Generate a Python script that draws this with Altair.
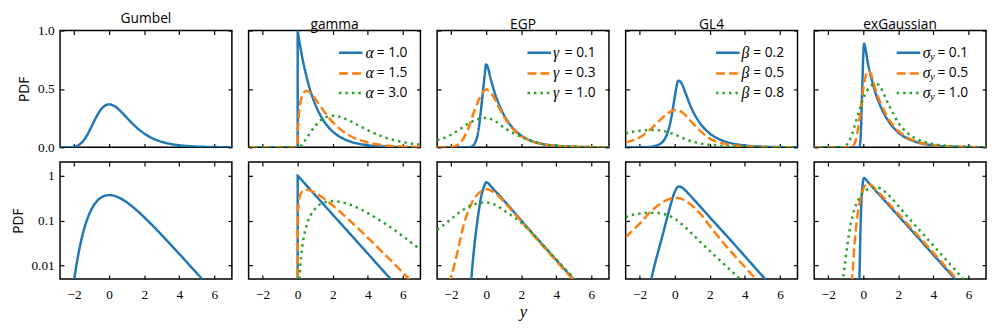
import altair as alt
import pandas as pd

# ---------------- data ----------------
X_DOMAIN = [-2.8, 7.0]
X_TICKS = [-2, 0, 2, 4, 6]
LIN_DOMAIN = [0.0, 1.0]
LIN_TICKS = [0.0, 0.5, 1.0]
LOG_DOMAIN = [0.005, 2.0]
LOG_TICKS = [0.01, 0.1, 1.0]

panel_titles = ["Gumbel", "gamma", "EGP", "GL4", "exGaussian"]
param_symbols = ["", "α", "γ", "β", "σ"]
param_subscripts = ["", "", "", "", "y"]
param_values = [[], ["1.0", "1.5", "3.0"], ["0.1", "0.3", "1.0"],
                ["0.2", "0.5", "0.8"], ["0.1", "0.5", "1.0"]]

# Gumbel
gumbel_x = [-2.8, -2.5, -2.25, -2.1, -2.0, -1.9, -1.75, -1.5, -1.25, -1.0, -0.75, -0.5, -0.25,
            0.0, 0.25, 0.5, 0.75, 1.0, 1.5, 2.0, 2.5, 3.0, 3.5, 4.0, 5.0, 6.0, 7.0]
gumbel_pdf = [1.2e-6, 6.2e-5, 7.2e-4, 0.0023, 0.0046, 0.0084, 0.0182, 0.0507, 0.1065, 0.1794,
              0.2549, 0.3170, 0.3555, 0.3679, 0.3574, 0.3307, 0.2945, 0.2546, 0.1785, 0.1182,
              0.0756, 0.0474, 0.0293, 0.0180, 0.0067, 0.0025, 0.0009]

# gamma
gamma_a1_x = [-2.8, -0.0001, 0.0, 0.02, 0.05, 0.1, 0.2, 0.3, 0.5, 0.75, 1.0, 1.5, 2.0, 2.5, 3.0,
              4.0, 5.0, 6.0, 7.0]
gamma_a1_pdf = [1e-9, 1e-9, 1.0, 0.980, 0.951, 0.905, 0.819, 0.741, 0.607, 0.472, 0.368, 0.223,
                0.135, 0.0821, 0.0498, 0.0183, 0.0067, 0.0025, 0.0009]
gamma_a15_x = [-2.8, 0.0, 0.00001, 0.0001, 0.001, 0.01, 0.05, 0.1, 0.2, 0.3, 0.5, 0.75, 1.0, 1.5,
               2.0, 2.5, 3.0, 4.0, 5.0, 6.0, 7.0]
gamma_a15_pdf = [1e-9, 1e-9, 0.0036, 0.0113, 0.0357, 0.1117, 0.240, 0.323, 0.413, 0.458, 0.484,
                 0.462, 0.415, 0.308, 0.216, 0.1465, 0.0973, 0.0413, 0.0170, 0.0069, 0.0027]
gamma_a3_x = [-2.8, 0.0, 0.02, 0.05, 0.1, 0.2, 0.3, 0.5, 0.75, 1.0, 1.5, 2.0, 2.5, 3.0, 3.5, 4.0,
              5.0, 6.0, 7.0]
gamma_a3_pdf = [1e-9, 1e-9, 0.000196, 0.00119, 0.00452, 0.0164, 0.0333, 0.0758, 0.1329, 0.1839,
                0.2510, 0.2707, 0.2565, 0.2240, 0.1850, 0.1465, 0.0842, 0.0446, 0.0223]

# EGP
egp_g01_x = [-2.8, -1.3, -1.0, -0.85, -0.75, -0.6, -0.5, -0.4, -0.3, -0.2, -0.1, 0.0, 0.1, 0.25,
             0.5, 0.75, 1.0, 1.5, 2.0, 2.5, 3.0, 4.0, 5.0, 6.0, 7.0]
egp_g01_pdf = [1e-9, 1e-6, 0.001, 0.005, 0.014, 0.05, 0.1, 0.19, 0.32, 0.46, 0.6, 0.71, 0.68,
               0.59, 0.46, 0.36, 0.28, 0.168, 0.1, 0.06, 0.036, 0.0131, 0.0048, 0.00175, 0.00064]
egp_g03_x = [-2.8, -2.5, -2.2, -2.0, -1.75, -1.5, -1.25, -1.0, -0.75, -0.5, -0.25, 0.0, 0.25,
             0.5, 0.75, 1.0, 1.5, 2.0, 2.5, 3.0, 4.0, 5.0, 6.0, 7.0]
egp_g03_pdf = [1e-5, 0.0006, 0.003, 0.0055, 0.013, 0.035, 0.09, 0.17, 0.28, 0.38, 0.46, 0.495,
               0.47, 0.41, 0.335, 0.265, 0.16, 0.095, 0.057, 0.034, 0.0125, 0.0046, 0.0017, 0.0006]
egp_g10_x = [-2.8, -2.5, -2.0, -1.5, -1.0, -0.5, 0.0, 0.5, 1.0, 1.5, 2.0, 2.5, 3.0, 3.5, 4.0,
             5.0, 6.0, 7.0]
egp_g10_pdf = [0.062, 0.076, 0.108, 0.155, 0.205, 0.24, 0.252, 0.225, 0.17, 0.125, 0.09, 0.058,
               0.036, 0.022, 0.0135, 0.0052, 0.0019, 0.0007]

# GL4
gl4_b02_x = [-2.8, -2.0, -1.6, -1.4, -1.2, -1.0, -0.8, -0.6, -0.4, -0.2, -0.1, 0.0, 0.1, 0.2,
             0.3, 0.4, 0.6, 0.8, 1.0, 1.5, 2.0, 2.5, 3.0, 4.0, 5.0, 6.0, 7.0]
gl4_b02_pdf = [3e-5, 0.0005, 0.002, 0.004, 0.0085, 0.017, 0.033, 0.065, 0.13, 0.25, 0.34, 0.43,
               0.52, 0.57, 0.565, 0.545, 0.47, 0.39, 0.32, 0.195, 0.118, 0.072, 0.044, 0.016,
               0.0058, 0.0021, 0.0008]
gl4_b05_x = [-2.8, -2.5, -2.0, -1.5, -1.0, -0.5, -0.25, 0.0, 0.25, 0.5, 1.0, 1.5, 2.0, 2.5, 3.0,
             4.0, 5.0, 6.0, 7.0]
gl4_b05_pdf = [0.042, 0.055, 0.085, 0.14, 0.21, 0.28, 0.305, 0.32, 0.315, 0.29, 0.21, 0.135,
               0.075, 0.043, 0.025, 0.0092, 0.0034, 0.0012, 0.00045]
gl4_b08_x = [-2.8, -2.5, -2.0, -1.5, -1.0, -0.5, 0.0, 0.5, 1.0, 1.5, 2.0, 2.5, 3.0, 3.5, 4.0,
             5.0, 6.0, 7.0]
gl4_b08_pdf = [0.118, 0.13, 0.142, 0.148, 0.147, 0.135, 0.11, 0.077, 0.05, 0.032, 0.021, 0.0138,
               0.0091, 0.006, 0.004, 0.0017, 0.0007, 0.0003]

# exGaussian
exg_s01_x = [-2.8, -0.4, -0.3, -0.22, -0.18, -0.14, -0.1, -0.05, 0.0, 0.05, 0.1, 0.25, 0.5, 0.75,
             1.0, 1.5, 2.0, 3.0, 4.0, 5.0, 6.0, 7.0]
exg_s01_pdf = [1e-12, 1e-6, 0.001, 0.005, 0.03, 0.12, 0.3, 0.55, 0.8, 0.887, 0.86, 0.73, 0.57,
               0.44, 0.345, 0.21, 0.127, 0.047, 0.0172, 0.0063, 0.0023, 0.00085]
exg_s05_x = [-2.8, -0.8, -0.7, -0.6, -0.5, -0.4, -0.3, -0.2, -0.1, 0.0, 0.1, 0.2, 0.3, 0.4, 0.5,
             0.75, 1.0, 1.5, 2.0, 3.0, 4.0, 5.0, 6.0, 7.0]
exg_s05_pdf = [1e-9, 0.0005, 0.003, 0.008, 0.03, 0.075, 0.16, 0.26, 0.38, 0.5, 0.59, 0.64, 0.655,
               0.64, 0.6, 0.47, 0.375, 0.23, 0.14, 0.0515, 0.019, 0.0069, 0.0025, 0.00093]
exg_s10_x = [-2.8, -1.3, -1.15, -1.0, -0.9, -0.8, -0.7, -0.6, -0.5, -0.4, -0.3, -0.2, -0.1, 0.0,
             0.2, 0.4, 0.6, 0.8, 1.0, 1.25, 1.5, 2.0, 2.5, 3.0, 4.0, 5.0, 6.0, 7.0]
exg_s10_pdf = [1e-9, 0.001, 0.005, 0.015, 0.03, 0.055, 0.09, 0.13, 0.18, 0.23, 0.28, 0.33, 0.38,
               0.42, 0.48, 0.52, 0.54, 0.54, 0.51, 0.43, 0.35, 0.21, 0.125, 0.075, 0.0276, 0.0101,
               0.0037, 0.00136]

curves = [
    [(gumbel_x, gumbel_pdf)],
    [(gamma_a1_x, gamma_a1_pdf), (gamma_a15_x, gamma_a15_pdf), (gamma_a3_x, gamma_a3_pdf)],
    [(egp_g01_x, egp_g01_pdf), (egp_g03_x, egp_g03_pdf), (egp_g10_x, egp_g10_pdf)],
    [(gl4_b02_x, gl4_b02_pdf), (gl4_b05_x, gl4_b05_pdf), (gl4_b08_x, gl4_b08_pdf)],
    [(exg_s01_x, exg_s01_pdf), (exg_s05_x, exg_s05_pdf), (exg_s10_x, exg_s10_pdf)],
]

# ---------------- styling ----------------
SERIES_KEYS = ["s0", "s1", "s2"]
COLORS = ["#1f77b4", "#ff7f0e", "#2ca02c"]
DASHES = [[1, 0], [9.25, 4], [2.5, 4.1]]
W, H = 175, 119
LEG_Y = [22.7, 43.7, 63.7]
# legend x layout per panel: line start, line end, symbol, subscript, "= value"
LEG_X = [None,
         (92, 116, 119, None, 130.5),
         (92, 116, 118, None, 130),
         (92, 116, 118, None, 130),
         (84, 108, 110.5, 118, 125.5)]
SANS = "Open Sans"
SERIF = "Liberation Serif, DejaVu Serif, serif"


def make_axis(orient, values, labels, fmt=None, title=None, title_kw=None, pad=6):
    kw = dict(orient=orient, values=values, labels=labels, domain=False, grid=False,
              ticks=True, tickSize=4, tickWidth=1.2, tickColor="black", offset=-4,
              labelFont=SERIF, labelFontSize=13.5, labelColor="black", labelPadding=pad,
              labelFlush=False, title=title)
    if fmt is not None:
        kw["format"] = fmt
    if title_kw:
        kw.update(title_kw)
    return alt.Axis(**kw)


def make_panel(p, row):
    recs = []
    for s, (xs, ys) in enumerate(curves[p]):
        for i, (xv, yv) in enumerate(zip(xs, ys)):
            recs.append({"x": xv, "pdf": yv, "series": SERIES_KEYS[s], "i": i})
    df = pd.DataFrame(recs)
    n = len(curves[p])

    xscale = alt.Scale(domain=X_DOMAIN, nice=False, zero=False)
    if row == 0:
        yscale = alt.Scale(domain=LIN_DOMAIN, nice=False, zero=False)
        yticks, yfmt = LIN_TICKS, ".1f"
    else:
        yscale = alt.Scale(type="log", domain=LOG_DOMAIN, nice=False)
        yticks, yfmt = LOG_TICKS, "~g"

    left_title = "PDF" if p == 0 else None
    left_axis = make_axis("left", yticks, p == 0, yfmt, left_title,
                          dict(titleFont=SANS, titleFontSize=14, titleFontWeight="normal",
                               titleColor="black", titlePadding=6))
    bottom_title = "y" if (row == 1 and p == 2) else None
    bottom_axis = make_axis("bottom", X_TICKS, row == 1, "d", bottom_title,
                            dict(titleFont=SERIF, titleFontStyle="italic", titleFontSize=17,
                                 titleFontWeight="normal", titleColor="black", titlePadding=3),
                            pad=9)
    top_axis = make_axis("top", X_TICKS, False)
    right_axis = make_axis("right", yticks, False)

    lines = alt.Chart(df).mark_line(clip=True, strokeWidth=2.5, interpolate="monotone").encode(
        x=alt.X("x:Q", scale=xscale, axis=bottom_axis),
        y=alt.Y("pdf:Q", scale=yscale, axis=left_axis),
        color=alt.Color("series:N", scale=alt.Scale(domain=SERIES_KEYS, range=COLORS),
                        legend=None),
        strokeDash=alt.StrokeDash("series:N", scale=alt.Scale(domain=SERIES_KEYS, range=DASHES),
                                  legend=None),
        order=alt.Order("i:Q"),
    )
    ghost = alt.Chart(df).mark_point(opacity=0, size=0, clip=True).encode(
        x=alt.X("x:Q", scale=xscale, axis=top_axis),
        y=alt.Y("pdf:Q", scale=yscale, axis=right_axis),
    )
    layers = [lines, ghost]

    if row == 0 and p > 0:
        lx0, lx1, sx, subx, ex = LEG_X[p]
        for s in range(n):
            yy = LEG_Y[s]
            layers.append(
                alt.Chart(pd.DataFrame({"k": [SERIES_KEYS[s]]})).mark_rule(
                    color=COLORS[s], strokeDash=DASHES[s], strokeWidth=2.5
                ).encode(x=alt.value(lx0), x2=alt.value(lx1), y=alt.value(yy))
            )
            layers.append(
                alt.Chart(pd.DataFrame({"t": [param_symbols[p]]})).mark_text(
                    font=SERIF, fontStyle="italic", fontSize=16, align="left",
                    baseline="middle", color="black"
                ).encode(text="t:N", x=alt.value(sx), y=alt.value(yy))
            )
            if param_subscripts[p]:
                layers.append(
                    alt.Chart(pd.DataFrame({"t": [param_subscripts[p]]})).mark_text(
                        font=SERIF, fontStyle="italic", fontSize=11, align="left",
                        baseline="middle", color="black"
                    ).encode(text="t:N", x=alt.value(subx), y=alt.value(yy + 4))
                )
            layers.append(
                alt.Chart(pd.DataFrame({"t": ["= " + param_values[p][s]]})).mark_text(
                    font=SANS, fontSize=14, align="left", baseline="middle", color="black"
                ).encode(text="t:N", x=alt.value(ex), y=alt.value(yy))
            )

    ch = alt.layer(*layers).resolve_scale(x="independent", y="independent").resolve_axis(
        x="independent", y="independent")
    if row == 0:
        ch = ch.properties(width=W, height=H,
                           title=alt.TitleParams(text=panel_titles[p], font=SANS, fontSize=14,
                                                 fontWeight="normal", color="black",
                                                 anchor="middle", offset=-2))
    else:
        ch = ch.properties(width=W, height=H)
    return ch


top_row = alt.hconcat(*[make_panel(p, 0) for p in range(5)], spacing=13)
bottom_row = alt.hconcat(*[make_panel(p, 1) for p in range(5)], spacing=13)

chart = alt.vconcat(top_row, bottom_row, spacing=5).properties(
    padding={"left": 2, "top": 0, "right": 0, "bottom": 0}
).configure_view(stroke="black", strokeWidth=1.5)

chart.save("out.html", embed_options={"renderer": "svg", "actions": False})
